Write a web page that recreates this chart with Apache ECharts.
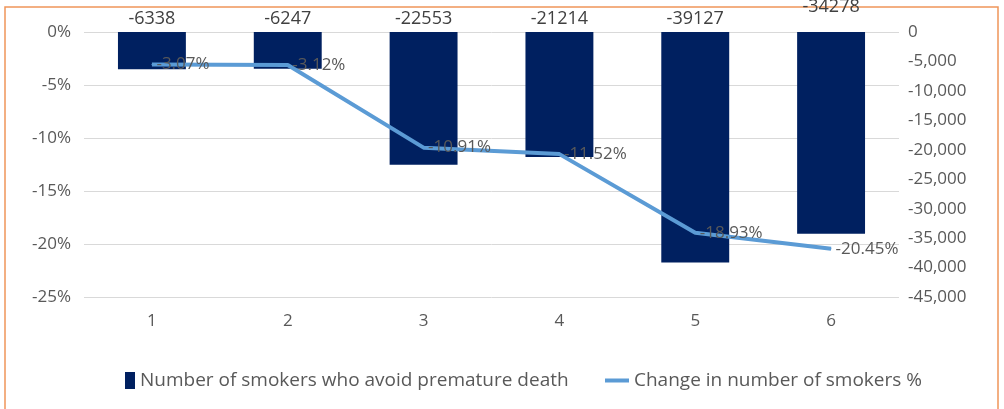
<!DOCTYPE html>
<html>
<head>
<meta charset="utf-8">
<script src="https://cdn.jsdelivr.net/npm/echarts@6/dist/echarts.min.js"></script>
<style>
  html, body { margin: 0; padding: 0; background: #fff; }
  #chart { width: 1004px; height: 409px; }
</style>
</head>
<body>
<div id="chart"></div>
<script>
var categories = ['1', '2', '3', '4', '5', '6'];
var avoidedDeaths = [-6338, -6247, -22553, -21214, -39127, -34278];
var smokerChange = [-3.07, -3.12, -10.91, -11.52, -18.93, -20.45];

var barName = 'Number of smokers who avoid premature death';
var lineName = 'Change in number of smokers %';

function withCommas(v) {
    var s = String(Math.abs(v)).replace(/\B(?=(\d{3})+(?!\d))/g, ',');
    return (v < 0 ? '-' : '') + s;
}

// last bar label sits higher in the original (pushed up against the frame)
var barData = avoidedDeaths.map(function (v, i) {
    if (i === avoidedDeaths.length - 1) {
        return { value: v, label: { offset: [0, -12] } };
    }
    return v;
});

var legendText = { color: '#595959', fontSize: 19 };

var myChart = echarts.init(document.getElementById('chart'));
var option = {
    animation: false,
    textStyle: { fontFamily: 'Open Sans' },
    graphic: [{
        type: 'rect',
        shape: { x: 5, y: 7, width: 993, height: 420 },
        style: { fill: 'none', stroke: '#F0955A', lineWidth: 1.5 },
        silent: true
    }],
    grid: { left: 84, right: 105, top: 32, bottom: 112 },
    legend: [
        {
            left: 120,
            top: 366,
            itemGap: 0,
            itemWidth: 10,
            itemHeight: 17,
            textStyle: legendText,
            data: [{ name: barName, icon: 'rect' }]
        },
        {
            left: 600,
            top: 366,
            itemWidth: 24,
            itemHeight: 4,
            textStyle: legendText,
            data: [{ name: lineName, icon: 'rect', itemStyle: { color: '#5B9BD5' } }]
        }
    ],
    xAxis: {
        type: 'category',
        data: categories,
        axisLine: { show: false, onZero: false },
        axisTick: { show: false },
        axisLabel: { color: '#595959', fontSize: 17, margin: 16 }
    },
    yAxis: [
        {
            type: 'value',
            min: -25, max: 0, interval: 5,
            axisLine: { show: false },
            axisTick: { show: false },
            axisLabel: { color: '#595959', fontSize: 17, margin: 13, formatter: '{value}%' },
            splitLine: { lineStyle: { color: '#D9D9D9', width: 1 } }
        },
        {
            type: 'value',
            min: -45000, max: 0, interval: 5000,
            axisLine: { show: false },
            axisTick: { show: false },
            axisLabel: { color: '#595959', fontSize: 17, margin: 9, formatter: withCommas },
            splitLine: { show: false }
        }
    ],
    series: [
        {
            name: barName,
            type: 'bar',
            yAxisIndex: 1,
            barWidth: '50%',
            itemStyle: { color: '#002060' },
            label: {
                show: true,
                position: 'top',
                distance: 4,
                color: '#404040',
                fontSize: 18
            },
            data: barData
        },
        {
            name: lineName,
            type: 'line',
            yAxisIndex: 0,
            symbol: 'circle',
            symbolSize: 1,
            showSymbol: true,
            lineStyle: { color: '#5B9BD5', width: 4 },
            itemStyle: { color: '#5B9BD5' },
            label: {
                show: true,
                position: 'right',
                distance: 4,
                color: '#595959',
                fontSize: 17,
                formatter: function (p) { return p.value.toFixed(2) + '%'; }
            },
            data: smokerChange
        }
    ]
};
myChart.setOption(option);
</script>
</body>
</html>
